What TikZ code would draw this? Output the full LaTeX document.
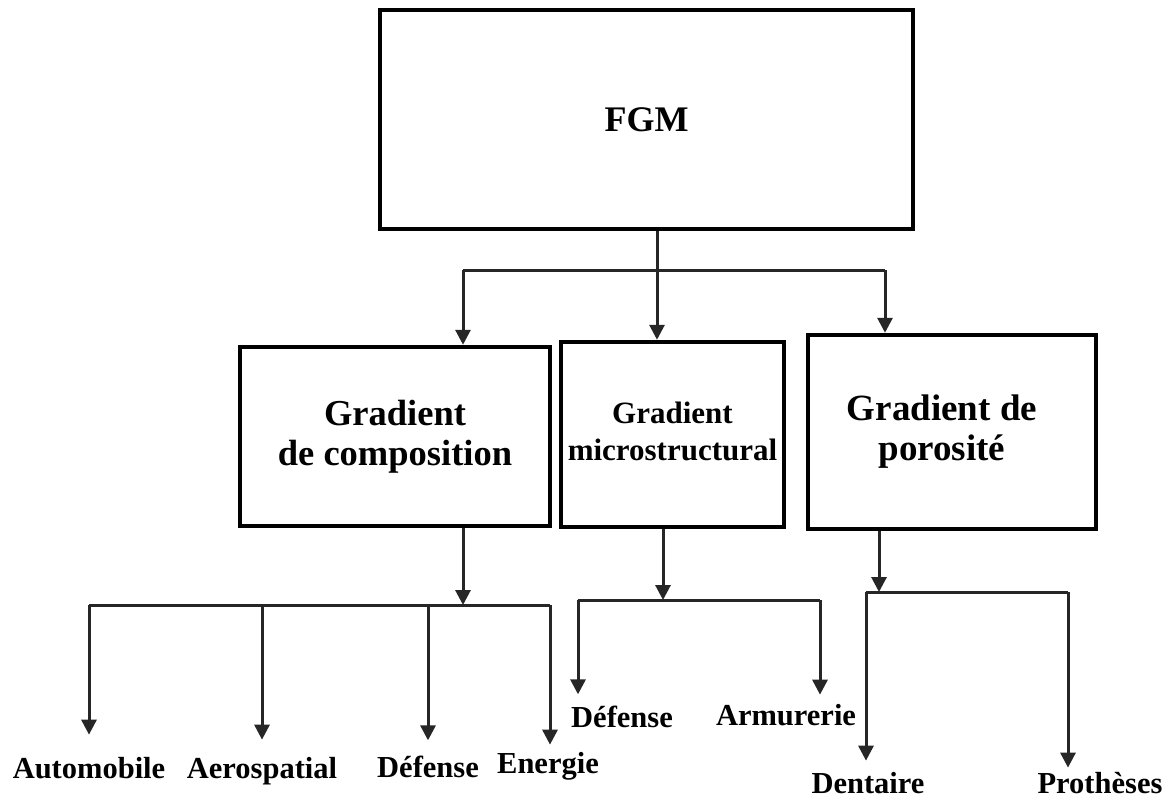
\documentclass[tikz,border=0pt]{standalone}
\usepackage{fontspec}
\setmainfont{Liberation Serif}
\usetikzlibrary{arrows.meta}
\begin{document}
\begin{tikzpicture}[x=1pt,y=-1pt,
  box/.style={draw, line width=4.5pt, inner sep=0pt, align=center},
  conn/.style={line width=3pt, draw=black!85},
  arr/.style={conn, -{Triangle[width=15pt,length=15pt]}},
  lbl/.style={anchor=base, inner sep=0pt, font=\bfseries\fontsize{30.5}{34}\selectfont}]
\useasboundingbox (0,0) rectangle (1167,801);
\fill[white] (0,0) rectangle (1167,801);

% boxes
\node[box, minimum width=533pt, minimum height=219pt,
      font=\bfseries\fontsize{36}{40}\selectfont] (fgm) at (646.5,119.5) {FGM};
\node[box, minimum width=310pt, minimum height=179pt,
      font=\bfseries\fontsize{36.5}{40}\selectfont] (b1) at (395,436.5) {Gradient\\de composition};
\node[box, minimum width=223pt, minimum height=185pt,
      font=\bfseries\fontsize{31}{37}\selectfont] (b2) at (672.5,434.5)
      {\raisebox{9pt}{\begin{tabular}{@{}c@{}}Gradient\\microstructural\end{tabular}}};
\node[box, minimum width=288pt, minimum height=194pt,
      font=\bfseries\fontsize{37}{40}\selectfont] (b3) at (952,432)
      {\begin{tabular}{@{}c@{}}Gradient de\\porosité\end{tabular}\hspace*{20pt}};

% junction coordinates
\coordinate (hL) at (463,270);
\coordinate (hM) at (657,270);
\coordinate (hR) at (885,270);

\coordinate (j1) at (463,605);
\coordinate (j1L) at (89,605);
\coordinate (j1R) at (550,605);
\coordinate (j2) at (663,600);
\coordinate (j2L) at (578,600);
\coordinate (j2R) at (820,600);
\coordinate (j3) at (879,592);
\coordinate (j3L) at (866,592);
\coordinate (j3R) at (1068,592);

% labels
\node[lbl] (auto) at (89,778) {Automobile};
\node[lbl] (aero) at (262,778) {Aerospatial};
\node[lbl] (def1) at (428,777) {Défense};
\node[lbl] (ener) at (548,773) {Energie};
\node[lbl] (def2) at (622,727) {Défense};
\node[lbl] (armu) at (786,725) {Armurerie};
\node[lbl] (dent) at (868,793) {Dentaire};
\node[lbl] (prot) at (1100,793) {Prothèses};

% top level connectors
\draw[arr] (fgm.south -| hM) -- (hM |- b2.north);
\draw[conn] (hL) -- (hR);
\draw[arr] (hL) -- (hL |- b1.north);
\draw[arr] (hR) -- (hR |- b3.north);

% group 1
\draw[arr] (b1.south -| j1) -- (j1);
\draw[conn] (j1L) -- (j1R);
\draw[arr, shorten >=22pt] (j1L) -- (j1L |- auto.north);
\draw[arr, shorten >=17pt] (j1 -| aero) -- (aero.north);
\draw[arr, shorten >=15pt] (j1 -| def1) -- (def1.north);
\draw[arr, shorten >=7pt] (j1R) -- (j1R |- ener.north);

% group 2
\draw[arr] (b2.south -| j2) -- (j2);
\draw[conn] (j2L) -- (j2R);
\draw[arr, shorten >=11pt] (j2L) -- (j2L |- def2.north);
\draw[arr, shorten >=9pt] (j2R) -- (j2R |- armu.north);

% group 3
\draw[arr] (b3.south -| j3) -- (j3);
\draw[conn] (j3L) -- (j3R);
\draw[arr, shorten >=11pt] (j3L) -- (j3L |- dent.north);
\draw[arr, shorten >=4pt] (j3R) -- (j3R |- prot.north);
\end{tikzpicture}
\end{document}
